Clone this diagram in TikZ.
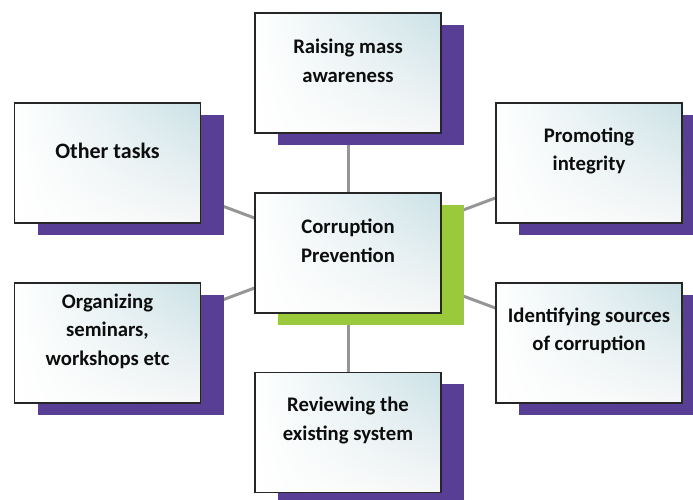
\documentclass[tikz,border=0pt]{standalone}
\usepackage{fontspec}
\setmainfont{Carlito}
\usetikzlibrary{shadows,backgrounds,shadings}
\definecolor{shpurple}{RGB}{89,62,150}
\definecolor{shgreen}{RGB}{154,202,60}
\definecolor{lnk}{RGB}{150,150,150}
\definecolor{tint}{RGB}{203,225,230}
\definecolor{pale}{RGB}{246,247,247}
\tikzset{
 box/.style={draw=black!85, line width=1.3pt, minimum width=186pt, minimum height=120pt, inner sep=0pt,
   shade, upper left=white, upper right=tint, lower left=white, lower right=pale,
   general shadow={fill=#1, shadow xshift=23pt, shadow yshift=-11.5pt}},
 box/.default=shpurple,
 lbl/.style={font=\fontsize{20.7}{28.5}\selectfont\bfseries, align=center, text=black!95, inner sep=0pt},
 biglbl/.style={lbl, font=\fontsize{22}{28.5}\selectfont\bfseries},
 link/.style={draw=lnk, line width=3pt}
}
\begin{document}
\begin{tikzpicture}[x=1pt,y=-1pt]
\useasboundingbox (0,0) rectangle (693,499);
\clip (0,0) rectangle (693,499);
\node[box] (top) at (348,73) {};
\node[box=shgreen] (cen) at (348,253) {};
\node[box] (oth) at (107.5,163) {};
\node[box] (pro) at (589,163) {};
\node[box] (org) at (107.5,343) {};
\node[box] (ide) at (589,343) {};
\node[box] (rev) at (348,432.5) {};
\begin{scope}[on background layer]
\foreach \n in {top,oth,pro,org,ide,rev} \draw[link] (cen.center) -- (\n.center);
\end{scope}
\node[lbl] (ttop) at ([yshift=12pt]top.center) {Raising mass\\awareness};
\node[lbl] (tcen) at ([yshift=12pt]cen.center) {Corruption\\Prevention};
\node[biglbl] (toth) at ([yshift=12pt]oth.center) {Other tasks};
\node[lbl] (tpro) at ([yshift=12pt]pro.center) {Promoting\\integrity};
\node[lbl] (torg) at ([yshift=12pt]org.center) {Organizing\\seminars,\\workshops etc};
\node[lbl] (tide) at ([yshift=12pt]ide.center) {Identifying sources\\of corruption};
\node[lbl] (trev) at ([yshift=12pt]rev.center) {Reviewing the\\existing system};
\end{tikzpicture}
\end{document}
